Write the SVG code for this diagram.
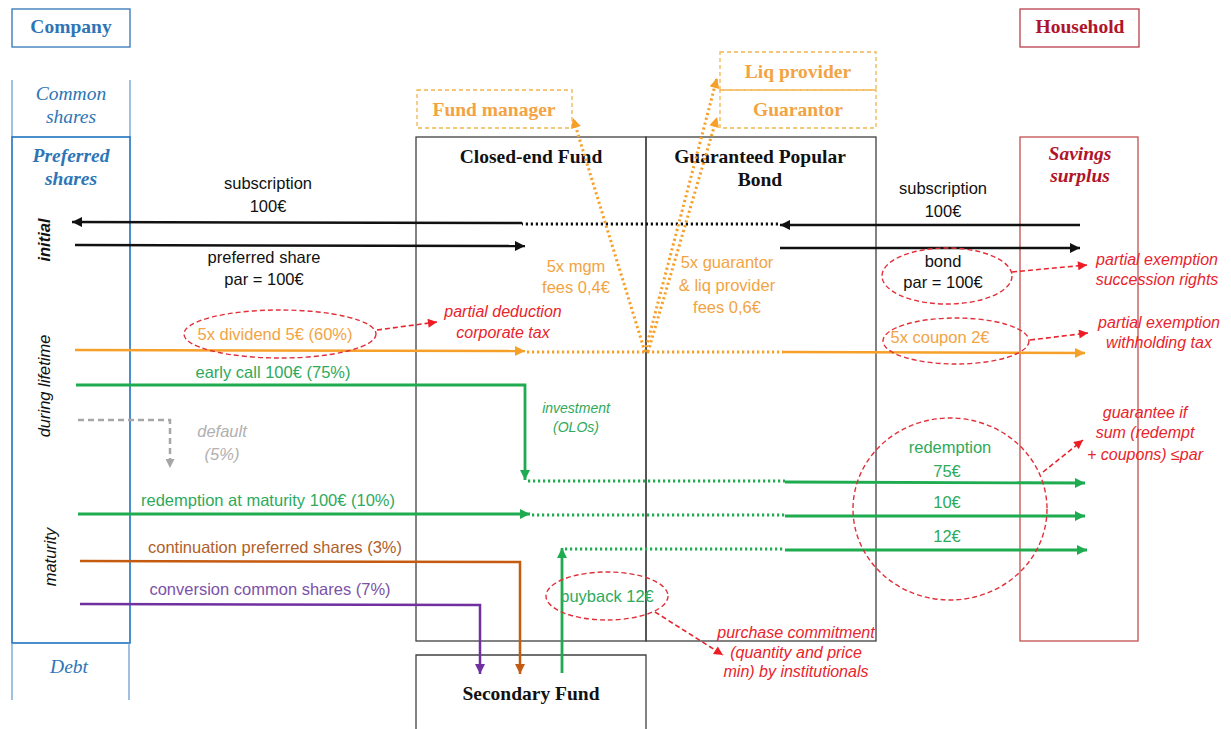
<svg xmlns="http://www.w3.org/2000/svg" width="1231" height="729" viewBox="0 0 1231 729">
<defs>
<style>
.serif{font-family:"Liberation Serif","Times New Roman",serif;font-size:19.5px}
.b{font-weight:bold}
.i{font-style:italic}
.sans{font-family:"Liberation Sans",Arial,sans-serif;font-size:16.5px}
.red{font-family:"Liberation Sans",Arial,sans-serif;font-size:16px;font-style:italic;fill:#e8242c}
.box{fill:none;stroke:#404040;stroke-width:1.3}
.dbox{fill:none;stroke:#f2b550;stroke-width:1.3;stroke-dasharray:4 3}
.ln{fill:none;stroke-linejoin:miter}
.dot{fill:none;stroke-dasharray:2.2 2.8;stroke-width:3}
.ell{fill:none;stroke:#e0303a;stroke-width:1.4;stroke-dasharray:5 3}
.rarr{fill:none;stroke:#e8242c;stroke-width:1.6;stroke-dasharray:5 3}
.blk{stroke:#111}
.org{stroke:#f7a029}
.grn{stroke:#1fab4f}
.brn{stroke:#c55a11}
.pur{stroke:#7030a0}
.gry{stroke:#a6a6a6}
.tblk{fill:#111}
.torg{fill:#f2a444}
.tgrn{fill:#2eaa5c}
.tbrn{fill:#b0602a}
.tpur{fill:#7b52a8}
.tgry{fill:#b0b0b0}
.tblue{fill:#2e75b6}
.tdred{fill:#b0142a}
</style>
<marker id="ak" viewBox="0 0 10 10" refX="10" refY="5" markerWidth="12" markerHeight="10" markerUnits="userSpaceOnUse" orient="auto"><path d="M0,0 L10,5 L0,10 z" fill="#111"/></marker>
<marker id="ao" viewBox="0 0 10 10" refX="10" refY="5" markerWidth="12" markerHeight="10" markerUnits="userSpaceOnUse" orient="auto"><path d="M0,0 L10,5 L0,10 z" fill="#f7a029"/></marker>
<marker id="ag" viewBox="0 0 10 10" refX="10" refY="5" markerWidth="12" markerHeight="10" markerUnits="userSpaceOnUse" orient="auto"><path d="M0,0 L10,5 L0,10 z" fill="#1fab4f"/></marker>
<marker id="ab" viewBox="0 0 10 10" refX="10" refY="5" markerWidth="12" markerHeight="10" markerUnits="userSpaceOnUse" orient="auto"><path d="M0,0 L10,5 L0,10 z" fill="#c55a11"/></marker>
<marker id="ap" viewBox="0 0 10 10" refX="10" refY="5" markerWidth="12" markerHeight="10" markerUnits="userSpaceOnUse" orient="auto"><path d="M0,0 L10,5 L0,10 z" fill="#7030a0"/></marker>
<marker id="ay" viewBox="0 0 10 10" refX="10" refY="5" markerWidth="11" markerHeight="9" markerUnits="userSpaceOnUse" orient="auto"><path d="M0,0 L10,5 L0,10 z" fill="#a6a6a6"/></marker>
<marker id="ar" viewBox="0 0 10 10" refX="10" refY="5" markerWidth="11" markerHeight="9" markerUnits="userSpaceOnUse" orient="auto"><path d="M0,0 L10,5 L0,10 z" fill="#ee1c24"/></marker>
</defs>
<rect width="1231" height="729" fill="#ffffff"/>

<g id="company">
<rect x="12" y="9" width="118" height="38" fill="none" stroke="#2e75b6" stroke-width="1.3"/>
<text x="71" y="33" text-anchor="middle" class="serif b tblue">Company</text>
</g>
<g id="common-shares">
<line x1="12" y1="80" x2="12" y2="137" stroke="#6d9fd0" stroke-width="1.3"/>
<line x1="130" y1="80" x2="130" y2="137" stroke="#6d9fd0" stroke-width="1.3"/>
<text x="71" y="100" text-anchor="middle" class="serif i tblue">Common</text>
<text x="71" y="123" text-anchor="middle" class="serif i tblue">shares</text>
</g>
<g id="preferred-shares">
<rect x="12" y="137" width="118" height="506" fill="none" stroke="#1f72c0" stroke-width="1.6"/>
<text x="71" y="162" text-anchor="middle" class="serif b i tblue">Preferred</text>
<text x="71" y="185" text-anchor="middle" class="serif b i tblue">shares</text>
<text transform="translate(50,240) rotate(-90)" text-anchor="middle" class="sans b i tblk">initial</text>
<text transform="translate(50,386) rotate(-90)" text-anchor="middle" class="sans i tblk">during lifetime</text>
<text transform="translate(56,557) rotate(-90)" text-anchor="middle" class="sans i tblk">maturity</text>
</g>
<g id="debt">
<line x1="12" y1="643" x2="12" y2="700" stroke="#6d9fd0" stroke-width="1.3"/>
<line x1="129" y1="643" x2="129" y2="700" stroke="#6d9fd0" stroke-width="1.3"/>
<text x="69" y="673" text-anchor="middle" class="serif i tblue">Debt</text>
</g>

<g id="household">
<rect x="1020" y="9" width="119" height="38" fill="none" stroke="#b8404a" stroke-width="1.3"/>
<text x="1080" y="33" text-anchor="middle" class="serif b tdred">Household</text>
</g>
<g id="savings-surplus">
<rect x="1020" y="137" width="118" height="504" fill="none" stroke="#c0504d" stroke-width="1.3"/>
<text x="1080" y="160" text-anchor="middle" class="serif b i tdred">Savings</text>
<text x="1080" y="182" text-anchor="middle" class="serif b i tdred">surplus</text>
</g>

<g id="closed-end-fund">
<rect x="416" y="137" width="230" height="504" class="box"/>
<text x="531" y="163" text-anchor="middle" class="serif b tblk">Closed-end Fund</text>
</g>
<g id="guaranteed-popular-bond">
<rect x="646" y="137" width="230" height="504" class="box"/>
<text x="760" y="163" text-anchor="middle" class="serif b tblk">Guaranteed Popular</text>
<text x="760" y="186" text-anchor="middle" class="serif b tblk">Bond</text>
</g>
<g id="secondary-fund">
<path d="M416,740 L416,655 L646,655 L646,740" class="box"/>
<text x="531" y="700" text-anchor="middle" class="serif b tblk">Secondary Fund</text>
</g>
<g id="fund-manager">
<rect x="417" y="90" width="155" height="38" class="dbox"/>
<text x="494" y="116" text-anchor="middle" class="serif b torg">Fund manager</text>
</g>
<g id="liq-provider">
<rect x="720" y="52" width="156" height="38" class="dbox"/>
<text x="798" y="78" text-anchor="middle" class="serif b torg">Liq provider</text>
</g>
<g id="guarantor">
<rect x="720" y="90" width="156" height="38" class="dbox"/>
<text x="798" y="116" text-anchor="middle" class="serif b torg">Guarantor</text>
</g>

<g id="connectors">
<path d="M1080,225 L780,225" class="ln blk" stroke-width="2.5" marker-end="url(#ak)"/>
<path d="M778,224 L522,224" class="dot blk" stroke-width="2.5"/>
<path d="M522,223 L72,222" class="ln blk" stroke-width="2.5" marker-end="url(#ak)"/>
<path d="M75,245 L525,246" class="ln blk" stroke-width="2.5" marker-end="url(#ak)"/>
<path d="M780,248 L1080,248" class="ln blk" stroke-width="2.5" marker-end="url(#ak)"/>
<path d="M75,350 L525,351" class="ln org" stroke-width="2.5" marker-end="url(#ao)"/>
<path d="M527,352 L783,352" class="dot org"/>
<path d="M783,352 L1085,353" class="ln org" stroke-width="2.5" marker-end="url(#ao)"/>
<path d="M645,352 L573,118" class="dot org" stroke-width="3.6" marker-end="url(#ao)"/>
<path d="M645,352 L717,78" class="dot org" stroke-width="3.6" marker-end="url(#ao)"/>
<path d="M648,352 L717,117" class="dot org" stroke-width="3.6" marker-end="url(#ao)"/>
<path d="M76,385 L525,385 L525,480" class="ln grn" stroke-width="2.8" marker-end="url(#ag)"/>
<path d="M528,481 L785,481" class="dot grn"/>
<path d="M785,482 L1085,483" class="ln grn" stroke-width="2.8" marker-end="url(#ag)"/>
<path d="M78,420 L170,420 L170,468" class="ln gry" stroke-width="2.5" stroke-dasharray="6 4" marker-end="url(#ay)"/>
<path d="M78,514 L530,514" class="ln grn" stroke-width="2.8" marker-end="url(#ag)"/>
<path d="M532,515 L785,515" class="dot grn"/>
<path d="M785,516 L1085,516" class="ln grn" stroke-width="2.8" marker-end="url(#ag)"/>
<path d="M80,561 L520,562 L520,674" class="ln brn" stroke-width="2.5" marker-end="url(#ab)"/>
<path d="M80,604 L480,605 L480,674" class="ln pur" stroke-width="2.5" marker-end="url(#ap)"/>
<path d="M562,673 L562,548" class="ln grn" stroke-width="2.8" marker-end="url(#ag)"/>
<path d="M565,549 L785,549" class="dot grn"/>
<path d="M785,550 L1087,550" class="ln grn" stroke-width="2.8" marker-end="url(#ag)"/>
<path d="M377,330 L437,322" class="rarr" marker-end="url(#ar)"/>
<path d="M1012,272 L1087,265" class="rarr" marker-end="url(#ar)"/>
<path d="M1030,340 L1088,333" class="rarr" marker-end="url(#ar)"/>
<path d="M1043,472 L1083,440" class="rarr" marker-end="url(#ar)"/>
<path d="M655,612 L723,655" class="rarr" marker-end="url(#ar)"/>
</g>

<g id="labels">
<text x="268" y="189" text-anchor="middle" class="sans tblk">subscription</text>
<text x="268" y="212" text-anchor="middle" class="sans tblk">100€</text>
<text x="264" y="263" text-anchor="middle" class="sans tblk">preferred share</text>
<text x="264" y="285" text-anchor="middle" class="sans tblk">par = 100€</text>
<text x="943" y="194" text-anchor="middle" class="sans tblk">subscription</text>
<text x="943" y="217" text-anchor="middle" class="sans tblk">100€</text>
<text x="943" y="267" text-anchor="middle" class="sans tblk">bond</text>
<text x="943" y="288" text-anchor="middle" class="sans tblk">par = 100€</text>
<text x="576" y="272" text-anchor="middle" class="sans torg">5x mgm</text>
<text x="576" y="293" text-anchor="middle" class="sans torg">fees 0,4€</text>
<text x="727" y="268" text-anchor="middle" class="sans torg">5x guarantor</text>
<text x="727" y="291" text-anchor="middle" class="sans torg">&amp; liq provider</text>
<text x="727" y="313" text-anchor="middle" class="sans torg">fees 0,6€</text>
<text x="275" y="340" text-anchor="middle" class="sans torg">5x dividend 5€ (60%)</text>
<text x="940" y="343" text-anchor="middle" class="sans torg">5x coupon 2€</text>
<text x="273" y="378" text-anchor="middle" class="sans tgrn">early call 100€ (75%)</text>
<text x="576" y="413" text-anchor="middle" class="sans i tgrn" style="font-size:14px">investment</text>
<text x="576" y="432" text-anchor="middle" class="sans i tgrn" style="font-size:14px">(OLOs)</text>
<text x="222" y="437" text-anchor="middle" class="sans i tgry">default</text>
<text x="222" y="460" text-anchor="middle" class="sans i tgry">(5%)</text>
<text x="268" y="506" text-anchor="middle" class="sans tgrn">redemption at maturity 100€ (10%)</text>
<text x="275" y="553" text-anchor="middle" class="sans tbrn">continuation preferred shares (3%)</text>
<text x="270" y="595" text-anchor="middle" class="sans tpur">conversion common shares (7%)</text>
<text x="950" y="453" text-anchor="middle" class="sans tgrn">redemption</text>
<text x="947" y="477" text-anchor="middle" class="sans tgrn">75€</text>
<text x="947" y="508" text-anchor="middle" class="sans tgrn">10€</text>
<text x="947" y="542" text-anchor="middle" class="sans tgrn">12€</text>
<text x="607" y="602" text-anchor="middle" class="sans tgrn">buyback 12€</text>
<text x="503" y="317" text-anchor="middle" class="red">partial deduction</text>
<text x="503" y="338" text-anchor="middle" class="red">corporate tax</text>
<text x="1157" y="265" text-anchor="middle" class="red">partial exemption</text>
<text x="1157" y="285" text-anchor="middle" class="red">succession rights</text>
<text x="1159" y="328" text-anchor="middle" class="red">partial exemption</text>
<text x="1159" y="348" text-anchor="middle" class="red">withholding tax</text>
<text x="1145" y="418" text-anchor="middle" class="red">guarantee if</text>
<text x="1145" y="438" text-anchor="middle" class="red">sum (redempt</text>
<text x="1145" y="460" text-anchor="middle" class="red">+ coupons) ≤par</text>
<text x="796" y="638" text-anchor="middle" class="red">purchase commitment</text>
<text x="796" y="658" text-anchor="middle" class="red">(quantity and price</text>
<text x="796" y="677" text-anchor="middle" class="red">min) by institutionals</text>
</g>

<g id="highlights">
<ellipse cx="280" cy="334" rx="96" ry="24" class="ell"/>
<ellipse cx="947" cy="276" rx="65" ry="28" class="ell"/>
<ellipse cx="956" cy="341" rx="73" ry="23" class="ell"/>
<ellipse cx="950" cy="509" rx="97" ry="91" class="ell"/>
<ellipse cx="607" cy="596" rx="61" ry="24" class="ell"/>
</g>
</svg>
